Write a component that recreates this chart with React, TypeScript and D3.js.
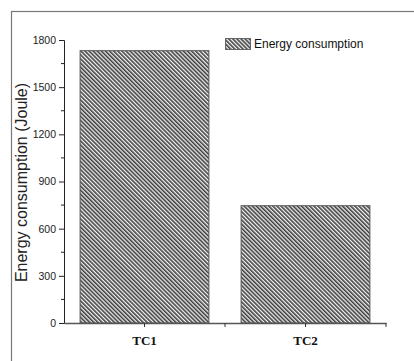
import { useRef, useEffect } from 'react';
import * as d3 from 'd3';

const categories = ['TC1', 'TC2'];
const energy = [1732, 746];
const yTicks = [0, 300, 600, 900, 1200, 1500, 1800];
const seriesName = 'Energy consumption';
const yTitle = 'Energy consumption (Joule)';

const W = 414;
const H = 361;

export default function App() {
  const svgRef = useRef<SVGSVGElement | null>(null);

  useEffect(() => {
    if (!svgRef.current) return;
    const svg = d3.select(svgRef.current);
    svg.selectAll('*').remove();

    const left = 64;
    const right = 386;
    const top = 40;
    const bottom = 323;

    const defs = svg.append('defs');
    const pat = defs
      .append('pattern')
      .attr('id', 'hatch')
      .attr('patternUnits', 'userSpaceOnUse')
      .attr('width', 2.9)
      .attr('height', 2.9)
      .attr('patternTransform', 'rotate(-45)');
    pat.append('rect').attr('width', 2.9).attr('height', 2.9).attr('fill', '#f4f4f4');
    pat
      .append('line')
      .attr('x1', 0.8)
      .attr('y1', 0)
      .attr('x2', 0.8)
      .attr('y2', 2.9)
      .attr('stroke', '#333')
      .attr('stroke-width', 1.5);

    // outer frame
    svg
      .append('rect')
      .attr('x', 11.5)
      .attr('y', 11.5)
      .attr('width', W)
      .attr('height', H)
      .attr('fill', 'none')
      .attr('stroke', '#777')
      .attr('stroke-width', 1.2);

    const x = d3.scaleBand<string>().domain(categories).range([left, right]).padding(0);
    const barW = x.bandwidth() * 0.8;
    const y = d3.scaleLinear().domain([0, 1800]).range([bottom, top]);

    // bars
    svg
      .append('g')
      .selectAll('rect')
      .data(categories)
      .join('rect')
      .attr('x', (d) => x(d)! + (x.bandwidth() - barW) / 2)
      .attr('y', (_, i) => y(energy[i]))
      .attr('width', barW)
      .attr('height', (_, i) => bottom - y(energy[i]))
      .attr('fill', 'url(#hatch)')
      .attr('stroke', '#555')
      .attr('stroke-width', 1);

    // y axis
    const yAxis = svg
      .append('g')
      .attr('transform', `translate(${left},0)`)
      .call(d3.axisLeft(y).tickValues(yTicks).tickSize(5).tickPadding(3).tickFormat(d3.format('d')));
    yAxis.select('.domain').attr('stroke', '#222');
    yAxis.selectAll('.tick line').attr('stroke', '#222');
    yAxis
      .selectAll('.tick text')
      .attr('font-family', 'Liberation Sans, Arial, sans-serif')
      .attr('font-size', 10.5)
      .attr('fill', '#222');
    // minor ticks
    const minors = yTicks.slice(0, -1).map((v, i) => (v + yTicks[i + 1]) / 2);
    yAxis
      .selectAll('line.minor')
      .data(minors)
      .join('line')
      .attr('class', 'minor')
      .attr('x1', -3)
      .attr('x2', 0)
      .attr('y1', (d) => y(d))
      .attr('y2', (d) => y(d))
      .attr('stroke', '#222');

    // x axis
    const xAxis = svg
      .append('g')
      .attr('transform', `translate(0,${bottom})`)
      .call(d3.axisBottom(x).tickSize(4).tickSizeOuter(0).tickPadding(9));
    xAxis.select('.domain').attr('stroke', '#555').attr('stroke-width', 1.3);
    xAxis.selectAll('.tick line').attr('stroke', '#333');
    xAxis
      .selectAll('.tick text')
      .attr('font-family', 'Liberation Serif, Times New Roman, serif')
      .attr('font-weight', 'bold')
      .attr('font-size', 13)
      .attr('fill', '#111');
    // middle and end ticks between categories
    xAxis
      .selectAll('line.sep')
      .data(categories.slice(1))
      .join('line')
      .attr('class', 'sep')
      .attr('x1', (d) => x(d)!)
      .attr('x2', (d) => x(d)!)
      .attr('y1', 0)
      .attr('y2', 4)
      .attr('stroke', '#333');
    xAxis
      .append('line')
      .attr('x1', right)
      .attr('x2', right)
      .attr('y1', 0)
      .attr('y2', 4)
      .attr('stroke', '#333');

    // y title
    svg
      .append('text')
      .attr('transform', `translate(27,${(top + bottom) / 2 + 1}) rotate(-90)`)
      .attr('text-anchor', 'middle')
      .attr('font-family', 'Liberation Sans, Arial, sans-serif')
      .attr('font-size', 16)
      .attr('fill', '#222')
      .text(yTitle);

    // legend
    svg
      .append('rect')
      .attr('x', 225.5)
      .attr('y', 38.5)
      .attr('width', 25)
      .attr('height', 11)
      .attr('fill', 'url(#hatch)')
      .attr('stroke', '#666');
    svg
      .append('text')
      .attr('x', 254)
      .attr('y', 48)
      .attr('font-family', 'Liberation Sans, Arial, sans-serif')
      .attr('font-size', 12)
      .attr('fill', '#111')
      .text(seriesName);
  }, []);

  return (
    <svg
      ref={svgRef}
      width={W}
      height={H}
      style={{ position: 'absolute', left: 0, top: 0, background: '#fff' }}
    />
  );
}
